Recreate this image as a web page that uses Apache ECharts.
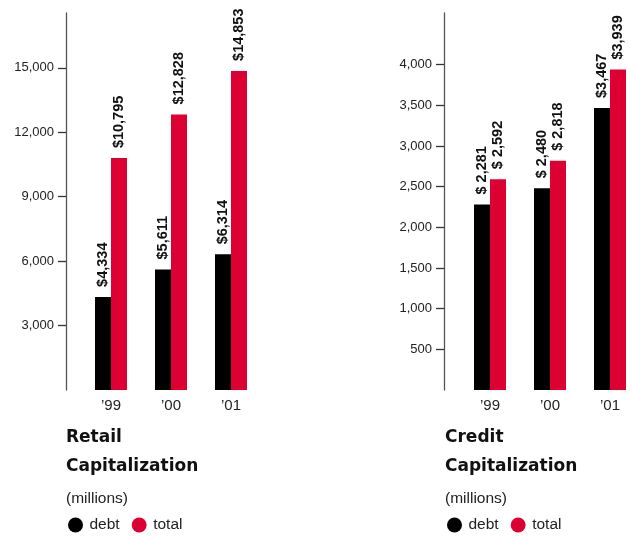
<!DOCTYPE html>
<html>
<head>
<meta charset="utf-8">
<script src="https://cdn.jsdelivr.net/npm/echarts@6/dist/echarts.min.js"></script>
<style>
  html, body { margin: 0; padding: 0; background: #fff; }
  #main { width: 630px; height: 536px; }
</style>
</head>
<body>
<div id="main"></div>
<script>
// years on both charts
const years = ['’99', '’00', '’01']

// retail capitalization (millions)
const retailDebt = [4334, 5611, 6314]
const retailTotal = [10795, 12828, 14853]
const retailDebtLabels = ['$4,334', '$5,611', '$6,314']
const retailTotalLabels = ['$10,795', '$12,828', '$14,853']
const retailTicks = [3000, 6000, 9000, 12000, 15000]

// credit capitalization (millions)
const creditDebt = [2281, 2480, 3467]
const creditTotal = [2592, 2818, 3939]
const creditDebtLabels = ['$ 2,281', '$ 2,480', '$3,467']
const creditTotalLabels = ['$ 2,592', '$ 2,818', '$3,939']
const creditTicks = [500, 1000, 1500, 2000, 2500, 3000, 3500, 4000]

const RED = '#dd0033'
const BLACK = '#000000'
const SANS = '"Liberation Sans", Arial, Helvetica, sans-serif'

const chart = echarts.init(document.getElementById('main'))

const yAxisStyle = (max, ticks) => ({
  type: 'value',
  min: 0,
  max: max,
  offset: 45,
  splitLine: { show: false },
  axisLine: { show: true, lineStyle: { color: '#555', width: 1.3 } },
  axisTick: { show: true, length: 8, customValues: ticks, lineStyle: { color: '#333', width: 1.3 } },
  axisLabel: {
    customValues: ticks,
    margin: 12,
    fontSize: 13,
    fontFamily: SANS,
    color: '#222',
    formatter: (v) => v.toLocaleString('en-US')
  }
})

const xAxisStyle = (gridIndex) => ({
  type: 'category',
  gridIndex: gridIndex,
  data: years,
  boundaryGap: false,
  axisLine: { show: false },
  axisTick: { show: false },
  axisLabel: { margin: 8, fontSize: 15, fontFamily: SANS, color: '#222' }
})

// value labels stand upright above each bar
const barLabel = (texts) => ({
  show: true,
  position: 'top',
  distance: 10,
  rotate: 90,
  align: 'left',
  verticalAlign: 'middle',
  fontSize: 14.5,
  fontWeight: 'bold',
  fontFamily: SANS,
  color: '#111',
  formatter: (p) => texts[p.dataIndex]
})

const bar = (name, idx, color, data, texts) => ({
  name: name,
  type: 'bar',
  xAxisIndex: idx,
  yAxisIndex: idx,
  barWidth: 16,
  barGap: '0%',
  itemStyle: { color: color },
  label: barLabel(texts),
  data: data
})

const titleStyle = (text, left) => ({
  text: text,
  subtext: '(millions)',
  left: left,
  top: 423,
  padding: 0,
  itemGap: 9,
  textStyle: {
    fontFamily: '"DejaVu Sans", sans-serif',
    fontWeight: 'bold',
    fontSize: 17,
    lineHeight: 29,
    color: '#111'
  },
  subtextStyle: {
    fontFamily: SANS,
    fontSize: 15.5,
    lineHeight: 18,
    color: '#222'
  }
})

const legendStyle = (left) => ({
  left: left,
  top: 517,
  padding: 0,
  icon: 'circle',
  itemWidth: 18,
  itemHeight: 15,
  itemGap: 12,
  data: ['debt', 'total'],
  textStyle: { fontFamily: SANS, fontSize: 15.5, color: '#222' }
})

const option = {
  animation: false,
  title: [
    titleStyle('Retail\nCapitalization', 66),
    titleStyle('Credit\nCapitalization', 445)
  ],
  legend: [legendStyle(68), legendStyle(447)],
  grid: [
    { left: 111, width: 120, top: 13, bottom: 146, outerBoundsMode: 'none' },
    { left: 490, width: 120, top: 13, bottom: 146, outerBoundsMode: 'none' }
  ],
  xAxis: [xAxisStyle(0), xAxisStyle(1)],
  yAxis: [
    Object.assign(yAxisStyle(17550, retailTicks), { gridIndex: 0 }),
    Object.assign(yAxisStyle(4635, creditTicks), { gridIndex: 1, offset: 46 })
  ],
  series: [
    bar('debt', 0, BLACK, retailDebt, retailDebtLabels),
    bar('total', 0, RED, retailTotal, retailTotalLabels),
    bar('debt', 1, BLACK, creditDebt, creditDebtLabels),
    bar('total', 1, RED, creditTotal, creditTotalLabels)
  ]
}

option && chart.setOption(option)
</script>
</body>
</html>
